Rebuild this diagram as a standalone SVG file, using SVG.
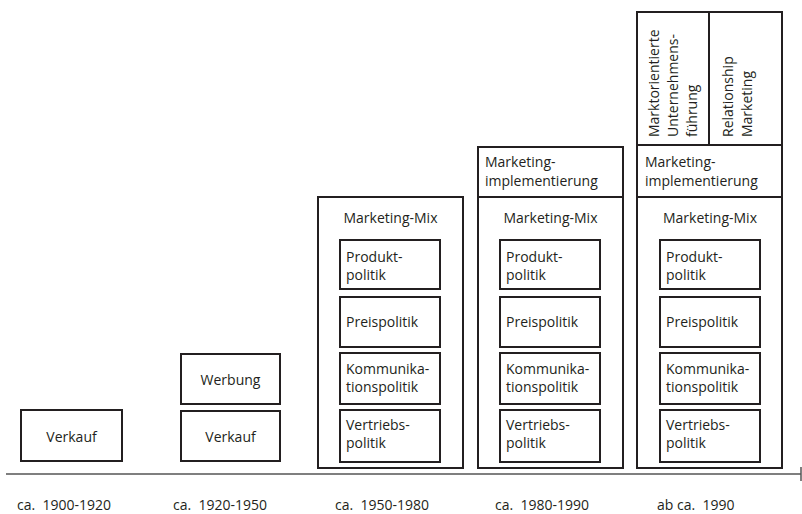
<svg xmlns="http://www.w3.org/2000/svg" width="802" height="514" viewBox="0 0 802 514">
<style>
  rect.box { fill: #ffffff; stroke: #231f20; stroke-width: 2; }
  line.div { stroke: #231f20; stroke-width: 2; }
  line.axis { stroke: #555555; stroke-width: 1.5; }
  text { font-family: "Open Sans", "Noto Sans", "Liberation Sans", sans-serif; font-size: 14px; fill: #231f20; white-space: pre; }
  text.c { text-anchor: middle; }
</style>
<rect width="802" height="514" fill="#ffffff"/>

<g id="axis">
  <line class="axis" x1="6" y1="474" x2="801" y2="474"/>
  <line class="axis" x1="801" y1="467" x2="801" y2="481"/>
</g>

<g id="era-1900">
  <rect class="box" x="21" y="410" width="101" height="51"/>
  <text class="c" x="71.5" y="442">Verkauf</text>
</g>

<g id="era-1920">
  <rect class="box" x="181" y="354" width="99" height="50"/>
  <text class="c" x="230.5" y="385">Werbung</text>
  <rect class="box" x="181" y="411" width="99" height="50"/>
  <text class="c" x="230.5" y="442">Verkauf</text>
</g>

<g id="era-1950">
  <rect class="box" x="318" y="197" width="145" height="271"/>
  <text class="c" x="390.5" y="223">Marketing-Mix</text>
  <rect class="box" x="340" y="240" width="100" height="49"/>
  <text x="346" y="262">Produkt-<tspan x="346" dy="18">politik</tspan></text>
  <rect class="box" x="340" y="297" width="100" height="50"/>
  <text x="346" y="327">Preispolitik</text>
  <rect class="box" x="340" y="353" width="100" height="51"/>
  <text x="346" y="374">Kommunika-<tspan x="346" dy="18">tionspolitik</tspan></text>
  <rect class="box" x="340" y="410" width="100" height="52"/>
  <text x="346" y="430">Vertriebs-<tspan x="346" dy="18">politik</tspan></text>
</g>

<g id="era-1980">
  <rect class="box" x="478" y="147" width="145" height="321"/>
  <line class="div" x1="478" y1="197" x2="623" y2="197"/>
  <text x="485" y="167">Marketing-<tspan x="485" dy="19">implementierung</tspan></text>
  <text class="c" x="550.5" y="223">Marketing-Mix</text>
  <rect class="box" x="500" y="240" width="100" height="49"/>
  <text x="506" y="262">Produkt-<tspan x="506" dy="18">politik</tspan></text>
  <rect class="box" x="500" y="297" width="100" height="50"/>
  <text x="506" y="327">Preispolitik</text>
  <rect class="box" x="500" y="353" width="100" height="51"/>
  <text x="506" y="374">Kommunika-<tspan x="506" dy="18">tionspolitik</tspan></text>
  <rect class="box" x="500" y="410" width="100" height="52"/>
  <text x="506" y="430">Vertriebs-<tspan x="506" dy="18">politik</tspan></text>
</g>

<g id="era-1990">
  <rect class="box" x="637" y="12" width="145" height="456"/>
  <line class="div" x1="637" y1="145" x2="782" y2="145"/>
  <line class="div" x1="637" y1="197" x2="782" y2="197"/>
  <line class="div" x1="709" y1="12" x2="709" y2="145"/>
  <text transform="translate(659,137) rotate(-90)">Marktorientierte<tspan x="0" dy="19">Unternehmens-</tspan><tspan x="0" dy="19">führung</tspan></text>
  <text transform="translate(733,137) rotate(-90)">Relationship<tspan x="0" dy="19">Marketing</tspan></text>
  <text x="645" y="167">Marketing-<tspan x="645" dy="19">implementierung</tspan></text>
  <text class="c" x="710" y="223">Marketing-Mix</text>
  <rect class="box" x="660" y="240" width="100" height="49"/>
  <text x="666" y="262">Produkt-<tspan x="666" dy="18">politik</tspan></text>
  <rect class="box" x="660" y="297" width="100" height="50"/>
  <text x="666" y="327">Preispolitik</text>
  <rect class="box" x="660" y="353" width="100" height="51"/>
  <text x="666" y="374">Kommunika-<tspan x="666" dy="18">tionspolitik</tspan></text>
  <rect class="box" x="660" y="410" width="100" height="52"/>
  <text x="666" y="430">Vertriebs-<tspan x="666" dy="18">politik</tspan></text>
</g>

<g id="timeline-labels">
  <text x="17" y="510">ca.  1900-1920</text>
  <text x="173" y="510">ca.  1920-1950</text>
  <text x="335" y="510">ca.  1950-1980</text>
  <text x="495" y="510">ca.  1980-1990</text>
  <text x="657" y="510">ab ca.  1990</text>
</g>
</svg>
